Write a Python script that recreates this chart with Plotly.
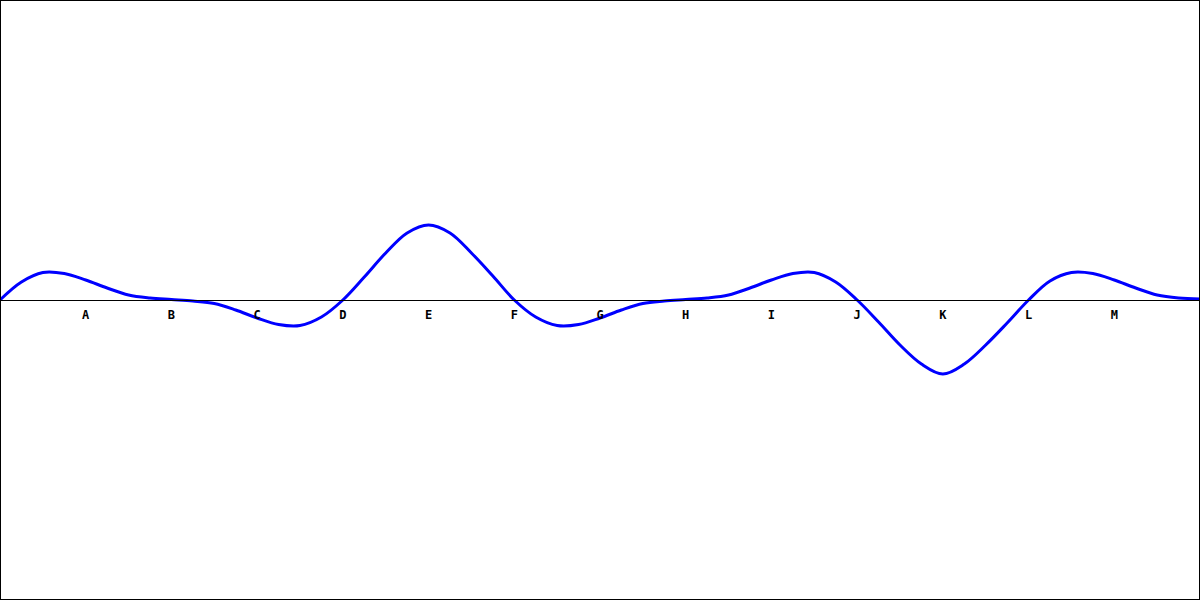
import plotly.graph_objects as go

# sample positions along the axis, every quarter step (label A sits at 1, M at 13)
t = [i * 0.25 for i in range(57)]
values = [0, 18, 27.5, 26.5, 20, 12, 5, 2,            # 0 .. 1.75
          0.5, -1, -3.5, -10, -18, -24.5, -25.5, -17,  # 2 .. 3.75
          0, 23, 47, 67, 75, 67, 47, 24,              # 4 .. 5.75
          0, -17, -25.5, -24.5, -18, -10, -3.5, -1,    # 6 .. 7.75
          0.5, 2, 5, 12, 20, 26.5, 27.5, 18,          # 8 .. 9.75
          0, -22, -45, -64, -74, -64, -45, -23,       # 10 .. 11.75
          0, 19, 27.5, 26.5, 20, 12, 5, 2,            # 12 .. 13.75
          1]                                          # 14
tick_pos = list(range(1, 14))
tick_labels = list("ABCDEFGHIJKLM")

fig = go.Figure()
fig.add_trace(go.Scatter(x=t, y=values, mode="lines", line_shape="spline",
                         line=dict(color="#0000ff", width=3), hoverinfo="skip"))

fig.update_layout(
    width=1200, height=600, autosize=False,
    margin=dict(l=0, r=0, t=0, b=0),
    paper_bgcolor="white", plot_bgcolor="white",
    showlegend=False,
    shapes=[dict(type="rect", xref="paper", yref="paper", x0=0, y0=0, x1=1, y1=1,
                 line=dict(color="black", width=2), layer="above")],
)
fig.update_xaxes(range=[0, 14], showgrid=False, zeroline=False,
                 anchor="free", position=0.5, showline=True, linecolor="black", linewidth=1,
                 tickvals=tick_pos, ticktext=tick_labels, ticks="outside", ticklen=4,
                 tickcolor="rgba(0,0,0,0)",
                 tickfont=dict(family="DejaVu Sans Mono", size=12, color="black", weight="bold"))
fig.update_yaxes(range=[-300, 300], visible=False, showgrid=False, zeroline=False)

# the page has a default 8px body margin, drop it so the chart fills the window
fig.write_html("out.html", config={"displayModeBar": False},
               post_script="document.body.style.margin='0px';")
